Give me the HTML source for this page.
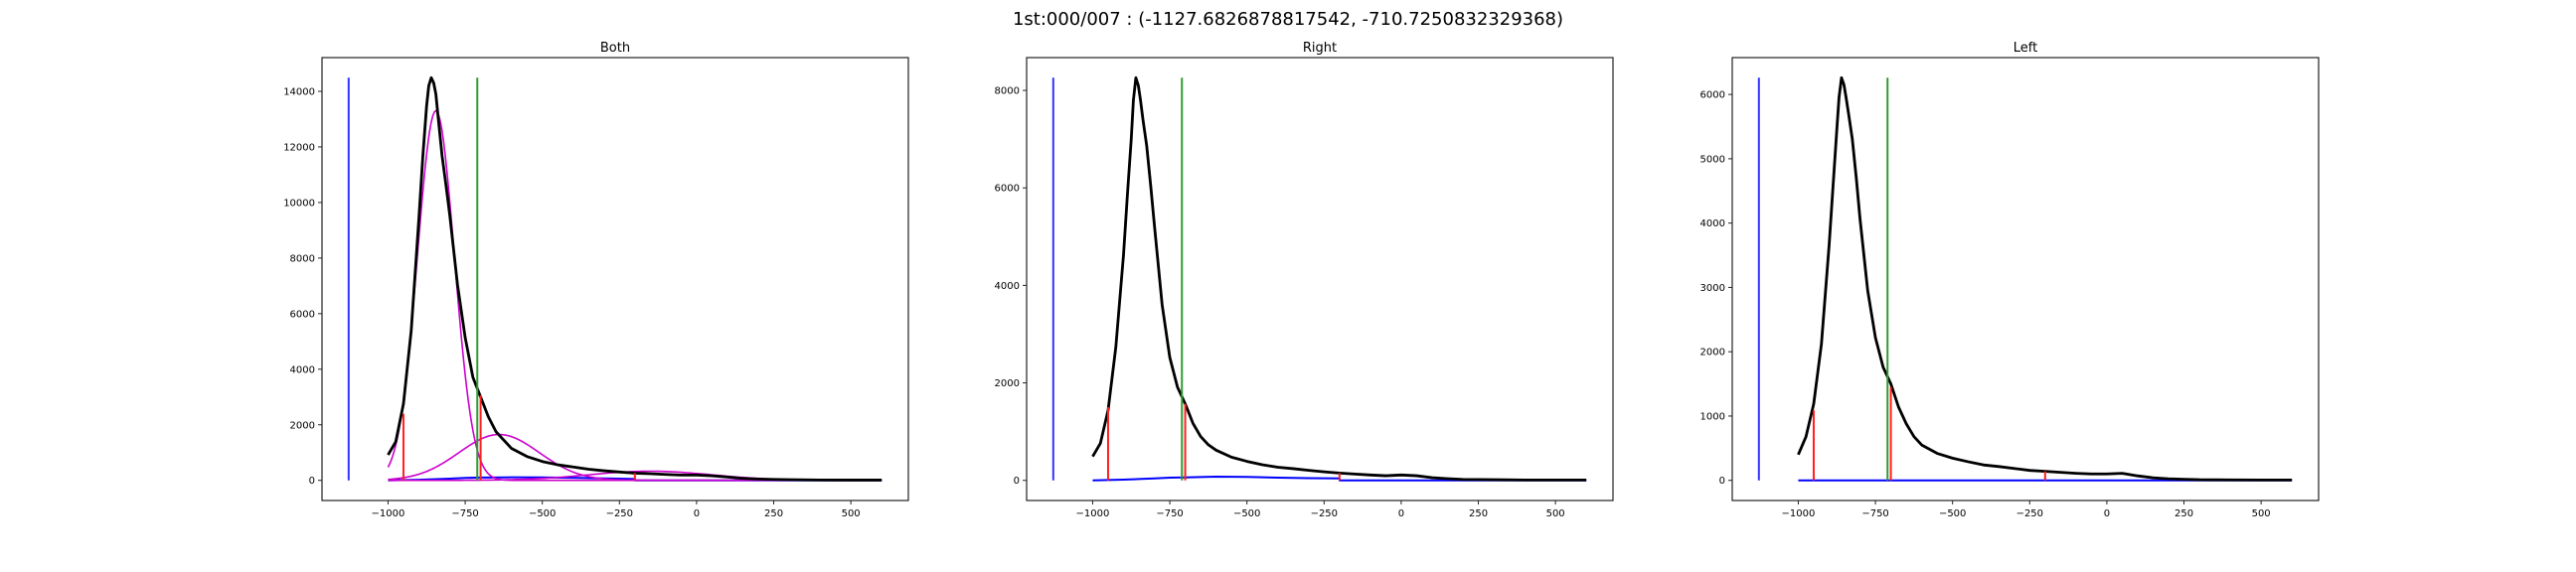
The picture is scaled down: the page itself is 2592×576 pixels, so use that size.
<!DOCTYPE html>
<html><head><meta charset="utf-8"><style>
html,body{margin:0;padding:0;background:#fff;}
svg{display:block;font-family:"DejaVu Sans","Liberation Sans",sans-serif;}
</style></head><body>
<svg id="fig" width="2592" height="576" viewBox="0 0 2592 576" xmlns="http://www.w3.org/2000/svg">
<rect x="0" y="0" width="2592" height="576" fill="#fff"/>
<text x="1296" y="25" font-size="18" text-anchor="middle" fill="#000">1st:000/007 : (-1127.6826878817542, -710.7250832329368)</text>
</svg>
<script>
// shared x sample positions
const xs = [-1000,-975,-950,-925,-900,-887,-875,-868,-860,-852,-845,-837,-825,-812,-800,-775,-750,-725,-700,-675,-650,-625,-600,-550,-500,-450,-400,-350,-300,-250,-200,-150,-100,-50,0,50,100,150,200,250,300,400,500,600];
const bothVals = [917,1390,2760,5380,9430,11700,13480,14200,14490,14300,13900,13000,11690,10600,9550,7050,5140,3710,3000,2290,1750,1450,1150,860,680,560,480,400,345,300,260,240,215,190,190,165,120,70,48,35,25,12,10,10];
const rightVals = [490,760,1440,2730,4630,5900,7000,7800,8260,8100,7800,7400,6870,6050,5240,3610,2520,1910,1570,1170,900,730,620,475,390,320,270,240,205,175,150,130,110,95,110,95,55,35,20,17,14,7,7,7];
const leftVals = [400,680,1190,2120,3660,4600,5460,5950,6260,6150,5950,5700,5310,4700,4070,2950,2220,1760,1500,1140,880,680,550,420,345,290,240,215,185,155,140,125,110,100,100,110,70,40,25,17,10,7,5,5];
// low blue residual curves
const lowX = [-1000,-900,-800,-750,-700,-600,-500,-400,-300,-200,-199,600];
const bothLow = [0,20,60,90,100,110,105,95,70,50,0,0];
const rightLow = [0,15,40,55,60,75,70,55,45,40,0,0];
const leftLow = [0,0,0,0,0,0,0,0,0,0,0,0];
// gaussian fit components (Both panel): amplitude, mean, sigma
const gaussAmp = [13300,1650,330];
const gaussMu = [-845,-640,-150];
const gaussSigma = [60,130,200];
// reference lines
const blueLineX = -1127.6826878817542;
const greenLineX = -710.7250832329368;
const redX = [-950,-700,-200];
const bothRed = [2400,3060,260];
const rightRed = [1500,1570,150];
const leftRed = [1090,1450,140];
const xTicks = [-1000,-750,-500,-250,0,250,500];
const bothYTicks = [0,2000,4000,6000,8000,10000,12000,14000];
const rightYTicks = [0,2000,4000,6000,8000];
const leftYTicks = [0,1000,2000,3000,4000,5000,6000];

const NS = "http://www.w3.org/2000/svg";
const fig = document.getElementById('fig');
function mk(tag, attrs, parent){const e=document.createElementNS(NS,tag);for(const k in attrs)e.setAttribute(k,attrs[k]);parent.appendChild(e);return e;}
function fmt(v){return v<0?'\u2212'+Math.abs(v):String(v);}

function panel(name, left, vals, low, reds, yTicks, gauss){
  const top=58, bottom=504, right=left+590;
  const M = Math.max(...vals);
  const xmin=blueLineX, xmax=600, xr=xmax-xmin;
  const x0=xmin-0.05*xr, x1=xmax+0.05*xr;
  const y0=-0.05*M, y1=M*1.05;
  const X=v=>left+(v-x0)/(x1-x0)*(right-left);
  const Y=v=>bottom-(v-y0)/(y1-y0)*(bottom-top);
  const g=mk('g',{},fig);
  
  
  const t=mk('text',{x:(left+right)/2,y:52,'font-size':13,'text-anchor':'middle',fill:'#000'},g);
  t.textContent = name==='both'?'Both':name==='right'?'Right':'Left';
  
  
  const bl=mk('line',{x1:X(blueLineX),x2:X(blueLineX),y1:Y(0),y2:Y(M),stroke:'#3333ff','stroke-width':2},g);
  
  
  const lp=mk('polyline',{points:lowX.map((x,i)=>X(x)+','+Y(low[i])).join(' '),fill:'none',stroke:'#0000ff','stroke-width':2},g);
  
  
  if(gauss){
    for(let k=0;k<gaussAmp.length;k++){
      const pts=[];
      for(let x=-1000;x<=600;x+=5){pts.push(X(x)+','+Y(gaussAmp[k]*Math.exp(-0.5*Math.pow((x-gaussMu[k])/gaussSigma[k],2))));}
      const gp=mk('polyline',{points:pts.join(' '),fill:'none',stroke:'#cc00cc','stroke-width':1.6},g);
      
      
    }
  }
  const dp=mk('polyline',{points:xs.map((x,i)=>X(x)+','+Y(vals[i])).join(' '),fill:'none',stroke:'#000','stroke-width':2.8,'stroke-linejoin':'round'},g);
  
  
  redX.forEach((rx,i)=>{
    const r=mk('line',{x1:X(rx),x2:X(rx),y1:Y(0),y2:Y(reds[i]),stroke:'#ff2020','stroke-width':2},g);
    
    
  });
  const gl=mk('line',{x1:X(greenLineX),x2:X(greenLineX),y1:Y(0),y2:Y(M),stroke:'#339933','stroke-width':2},g);
  
  
  const fr=mk('rect',{x:left,y:top,width:right-left,height:bottom-top,fill:'none',stroke:'#222','stroke-width':1.2},g);
  
  
  xTicks.forEach(v=>{
    mk('line',{x1:X(v),x2:X(v),y1:bottom,y2:bottom+4,stroke:'#222','stroke-width':1},g);
    const tl=mk('text',{x:X(v),y:bottom+16,'font-size':10,'text-anchor':'middle',fill:'#000'},g);
    tl.textContent=fmt(v);
    
    
  });
  yTicks.forEach(v=>{
    mk('line',{x1:left-4,x2:left,y1:Y(v),y2:Y(v),stroke:'#222','stroke-width':1},g);
    const tl=mk('text',{x:left-7,y:Y(v)+3.5,'font-size':10,'text-anchor':'end',fill:'#000'},g);
    tl.textContent=fmt(v);
    
    
  });
}
panel('both',324,bothVals,bothLow,bothRed,bothYTicks,true);
panel('right',1033,rightVals,rightLow,rightRed,rightYTicks,false);
panel('left',1743,leftVals,leftLow,leftRed,leftYTicks,false);
</script>
</body></html>
